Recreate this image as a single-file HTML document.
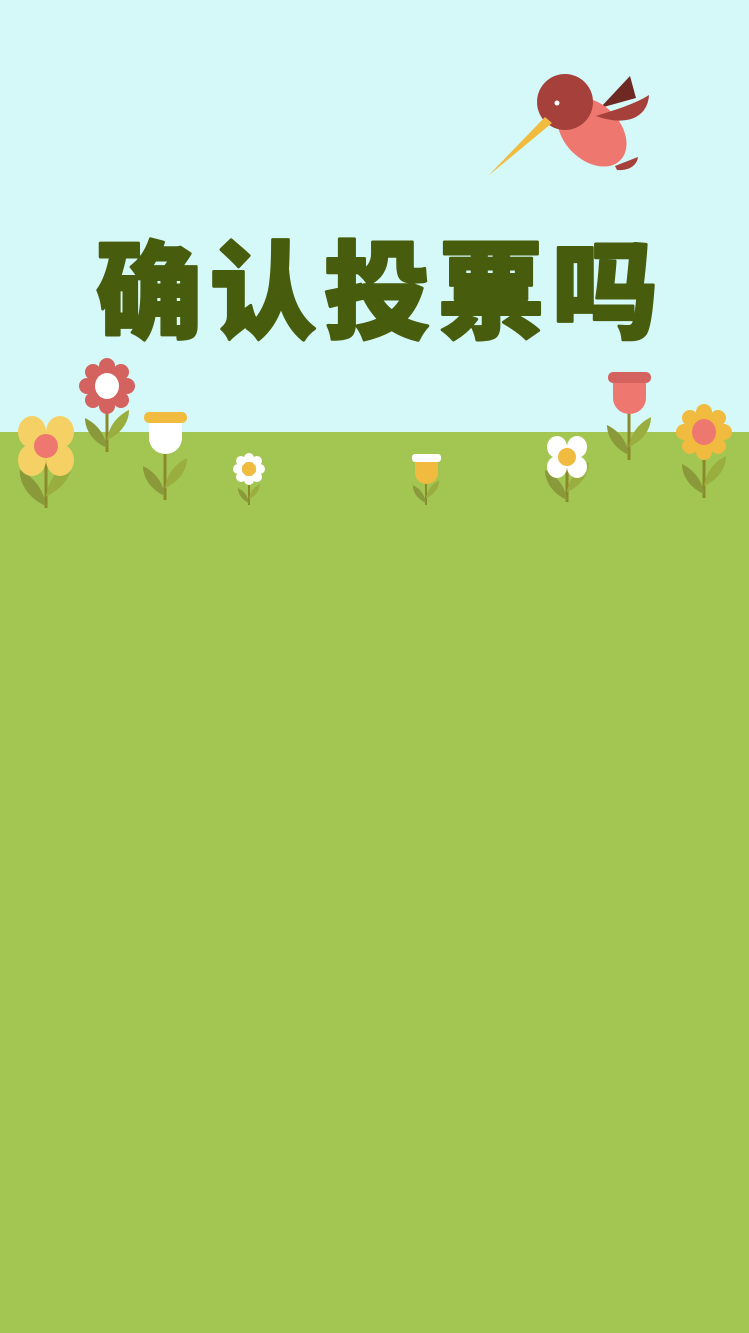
<!DOCTYPE html>
<html><head><meta charset="utf-8"><style>
html,body{margin:0;padding:0;width:749px;height:1333px;overflow:hidden;}
svg{display:block}
</style></head><body>
<svg width="749" height="1333" viewBox="0 0 749 1333">
<defs>
<g id="leaves">
<path d="M0,0 C-14,-6 -22,-18 -22,-30 C-10,-24 -2,-14 0,0Z" fill="#8a9a3a"/>
<path d="M0,-8 C14,-14 22,-26 22,-38 C10,-32 2,-22 0,-8Z" fill="#9aae40"/>
</g>
</defs>
<rect x="0" y="0" width="749" height="432" fill="#d5f9f8"/>
<rect x="0" y="432" width="749" height="901" fill="#a3c653"/>

<g>
<polygon points="600,108 630,76 636,98" fill="#6e2a22"/>
<ellipse cx="592" cy="132" rx="28" ry="40" transform="rotate(-45 592 132)" fill="#ee7770"/>
<path d="M596,116 C615,110 635,104 649,95 C648,115 630,128 596,116Z" fill="#a5413a"/>
<path d="M615,166 L638,157 C637,166 628,171 617,170Z" fill="#a5413a"/>
<circle cx="565" cy="102" r="28" fill="#a5413a"/>
<circle cx="557" cy="103" r="2.5" fill="#fff"/>
<polygon points="545,117 552,123 488,176" fill="#f0bb3e"/>
</g>

<text x="381" y="330" text-anchor="middle" font-family="'Liberation Sans','Noto Sans CJK SC',sans-serif" font-weight="900" font-size="106" letter-spacing="8" fill="#475c0c" stroke="#475c0c" stroke-width="3" stroke-linejoin="round">确认投票吗</text>

<g>
<line x1="46" y1="446" x2="46" y2="508" stroke="#8a8a2a" stroke-width="3"/>
<use href="#leaves" transform="translate(46,506) scale(1.2)"/>
<ellipse cx="32" cy="432" rx="14" ry="16" fill="#f5d165"/><ellipse cx="60" cy="432" rx="14" ry="16" fill="#f5d165"/>
<ellipse cx="32" cy="460" rx="14" ry="16" fill="#f5d165"/><ellipse cx="60" cy="460" rx="14" ry="16" fill="#f5d165"/>
<circle cx="46" cy="446" r="12" fill="#ee7770"/>
</g>
<g>
<line x1="107" y1="386" x2="107" y2="452" stroke="#8a8a2a" stroke-width="3"/>
<use href="#leaves" transform="translate(107,448)"/>
<g fill="#d4625e">
<circle cx="107" cy="366" r="8"/><circle cx="107" cy="406" r="8"/><circle cx="87" cy="386" r="8"/><circle cx="127" cy="386" r="8"/>
<circle cx="93" cy="372" r="8"/><circle cx="121" cy="372" r="8"/><circle cx="93" cy="400" r="8"/><circle cx="121" cy="400" r="8"/>
<circle cx="107" cy="386" r="16"/></g>
<ellipse cx="107" cy="386" rx="12" ry="13" fill="#fff"/>
</g>
<g>
<line x1="165" y1="440" x2="165" y2="500" stroke="#8a8a2a" stroke-width="3"/>
<use href="#leaves" transform="translate(165,496)"/>
<path d="M149,418 h33 v20 a16.5,16 0 0 1 -33,0Z" fill="#fff"/>
<rect x="144" y="412" width="43" height="11" rx="5" fill="#f0bb3e"/>
</g>
<g>
<line x1="249" y1="470" x2="249" y2="505" stroke="#8a8a2a" stroke-width="2"/>
<use href="#leaves" transform="translate(249,503) scale(0.5)"/>
<g fill="#fff"><circle cx="249" cy="458" r="5"/><circle cx="249" cy="480" r="5"/><circle cx="238" cy="469" r="5"/><circle cx="260" cy="469" r="5"/>
<circle cx="241" cy="461" r="5"/><circle cx="257" cy="461" r="5"/><circle cx="241" cy="477" r="5"/><circle cx="257" cy="477" r="5"/></g>
<circle cx="249" cy="469" r="7" fill="#f0bb3e"/>
</g>
<g>
<line x1="426" y1="475" x2="426" y2="505" stroke="#8a8a2a" stroke-width="2"/>
<use href="#leaves" transform="translate(426,503) scale(0.6)"/>
<path d="M415,459 h23 v14 a11.5,11 0 0 1 -23,0Z" fill="#f0bb3e"/>
<rect x="412" y="454" width="29" height="8" rx="3" fill="#fff"/>
</g>
<g>
<line x1="567" y1="458" x2="567" y2="502" stroke="#8a8a2a" stroke-width="3"/>
<use href="#leaves" transform="translate(567,500)"/>
<g fill="#fff"><ellipse cx="557" cy="447" rx="10" ry="11"/><ellipse cx="577" cy="447" rx="10" ry="11"/><ellipse cx="557" cy="467" rx="10" ry="11"/><ellipse cx="577" cy="467" rx="10" ry="11"/></g>
<circle cx="567" cy="457" r="9" fill="#f0bb3e"/>
</g>
<g>
<line x1="629" y1="400" x2="629" y2="460" stroke="#8a8a2a" stroke-width="3"/>
<use href="#leaves" transform="translate(629,455)"/>
<path d="M613,378 h33 v20 a16.5,16 0 0 1 -33,0Z" fill="#ee7770"/>
<rect x="608" y="372" width="43" height="11" rx="5" fill="#d4625e"/>
</g>
<g>
<line x1="704" y1="432" x2="704" y2="498" stroke="#8a8a2a" stroke-width="3"/>
<use href="#leaves" transform="translate(704,494)"/>
<g fill="#f0bb3e"><circle cx="704" cy="412" r="8"/><circle cx="704" cy="452" r="8"/><circle cx="684" cy="432" r="8"/><circle cx="724" cy="432" r="8"/>
<circle cx="690" cy="418" r="8"/><circle cx="718" cy="418" r="8"/><circle cx="690" cy="446" r="8"/><circle cx="718" cy="446" r="8"/><circle cx="704" cy="432" r="18"/></g>
<ellipse cx="704" cy="432" rx="12" ry="13" fill="#ee7770"/>
</g>
</svg>
</body></html>
